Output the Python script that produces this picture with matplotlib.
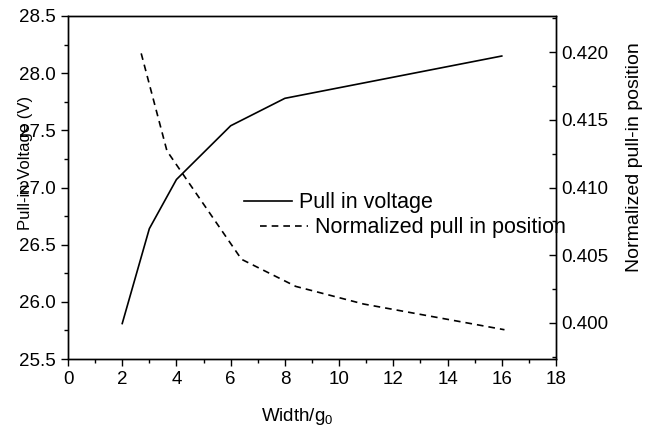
import matplotlib
matplotlib.use('Agg')
import matplotlib.pyplot as plt
from matplotlib.ticker import MultipleLocator

plt.rcParams['font.family'] = ['Liberation Sans', 'DejaVu Sans']
plt.rcParams['mathtext.fontset'] = 'custom'
plt.rcParams['mathtext.rm'] = 'Liberation Sans'
plt.rcParams['mathtext.it'] = 'Liberation Sans'

# values
width = [2, 3, 4, 6, 8, 16]
voltage = [25.81, 26.64, 27.07, 27.54, 27.78, 28.15]

width_pos = [2.7, 3.65, 6.4, 8.4, 10.9, 16.1]
position = [0.4199, 0.4127, 0.4047, 0.4027, 0.4014, 0.3995]

fs = 13.5
fs_leg = 15.5

fig = plt.figure(figsize=(6.56, 4.32), dpi=100)
ax = fig.add_axes([68/656, 1 - 359/432, 488/656, 343/432])
ax2 = ax.twinx()

l1, = ax.plot(width, voltage, color='black', lw=1.2, label='Pull in voltage')
l2, = ax2.plot(width_pos, position, color='black', lw=1.2, ls=(0, (4, 3)),
               label='Normalized pull in position')

ax.set_xlim(0, 18)
ax.set_ylim(25.5, 28.5)
ax2.set_ylim(0.39734, 0.42266)

ax.xaxis.set_major_locator(MultipleLocator(2))
ax.xaxis.set_minor_locator(MultipleLocator(1))
ax.yaxis.set_major_locator(MultipleLocator(0.5))
ax.yaxis.set_minor_locator(MultipleLocator(0.25))
ax.yaxis.set_major_formatter(matplotlib.ticker.FormatStrFormatter('%.1f'))
ax2.yaxis.set_major_locator(MultipleLocator(0.005))
ax2.yaxis.set_minor_locator(MultipleLocator(0.0025))
ax2.yaxis.set_major_formatter(matplotlib.ticker.FormatStrFormatter('%.3f'))

ax.tick_params(axis='both', which='major', direction='out', length=5, width=1,
               labelsize=fs, top=False, right=False)
ax.tick_params(axis='both', which='minor', direction='out', length=3, width=1,
               top=False, right=False)
ax2.tick_params(axis='y', which='major', direction='in', length=5, width=1,
                labelsize=fs, pad=4)
ax2.tick_params(axis='y', which='minor', direction='in', length=3, width=1)

for a in (ax, ax2):
    for s in a.spines.values():
        s.set_linewidth(1)

ax.set_xlabel('Width/g$_0$', fontsize=fs)
ax.xaxis.set_label_coords(0.469, -0.137)
ax.set_ylabel('Pull-in Voltage (V)', fontsize=12)
ax.yaxis.set_label_coords(-0.072, 0.571)
ax2.set_ylabel('Normalized pull-in position', fontsize=14)
ax2.yaxis.set_label_coords(1.143, 0.589)

leg1 = ax2.legend(handles=[l1], loc='center left', bbox_to_anchor=(0.3607, 0.455),
                  frameon=False, fontsize=fs_leg, borderpad=0, borderaxespad=0,
                  handlelength=2.23, handletextpad=0.33)
ax2.add_artist(leg1)
ax2.legend(handles=[l2], loc='center left', bbox_to_anchor=(0.393, 0.382),
           frameon=False, fontsize=fs_leg, borderpad=0, borderaxespad=0,
           handlelength=2.23, handletextpad=0.33)

fig.savefig('out.png', dpi=100)
